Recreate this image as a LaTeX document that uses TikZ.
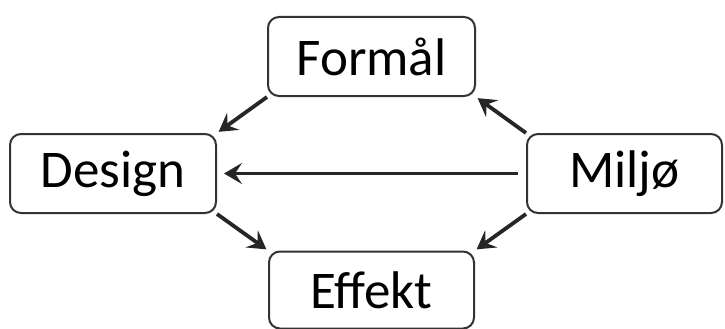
\documentclass[tikz,border=0pt]{standalone}
\usepackage{fontspec}
\setmainfont{Carlito}
\usetikzlibrary{arrows.meta}
\definecolor{boxline}{HTML}{333333}
\definecolor{arrowcol}{HTML}{262626}
\begin{document}
\begin{tikzpicture}[x=1pt,y=-1pt,
  box/.style={draw=boxline, line width=2pt, rounded corners=11pt,
    inner sep=0pt, font=\fontsize{53}{58}\selectfont},
  link/.style={draw=arrowcol, line width=3.8pt,
    -{Stealth[length=18pt,width=21pt,inset=7pt]}}]
\useasboundingbox (0,0) rectangle (725,329);
\node[box, minimum width=207pt, minimum height=79pt] (formal) at (371.5,56.5) {Formål};
\node[box, minimum width=206pt, minimum height=79pt] (design) at (113,173.5) {Design};
\node[box, minimum width=195pt, minimum height=79pt] (miljo) at (624.5,173.5) {Miljø};
\node[box, minimum width=205pt, minimum height=77pt] (effekt) at (371.5,290) {Effekt};
\draw[link, shorten >=2pt] (formal.south west) -- (design.north east);
\draw[link, shorten <=8pt, shorten >=7pt] (miljo.west) -- (design.east);
\draw[link, shorten >=2pt] (design.south east) -- (effekt.north west);
\draw[link, shorten >=2pt] (miljo.north west) -- (formal.south east);
\draw[link, shorten >=2pt] (miljo.south west) -- (effekt.north east);
\end{tikzpicture}
\end{document}
